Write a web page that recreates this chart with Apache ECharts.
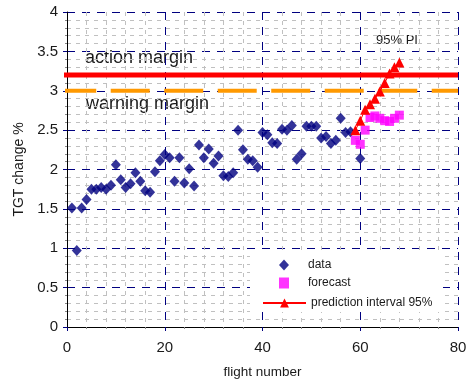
<!DOCTYPE html>
<html>
<head>
<meta charset="utf-8">
<script src="https://cdn.jsdelivr.net/npm/echarts@6/dist/echarts.min.js"></script>
<style>html,body{margin:0;padding:0;background:#fff}#c{width:467px;height:380px}</style>
</head>
<body>
<div id="c"></div>
<script>
// flight number / TGT change % for observed data
const dataX = [1,2,3,4,5,6,7,8,9,10,11,12,13,14,15,16,17,18,19,20,21,22,23,24,25,26,27,28,29,30,31,32,33,34,35,36,37,38,39,40,41,42,43,44,45,46,47,48,49,50,51,52,53,54,55,56,57,58,60];
const dataY = [1.51,0.97,1.51,1.62,1.75,1.75,1.77,1.75,1.80,2.06,1.87,1.77,1.82,1.96,1.85,1.73,1.71,1.97,2.11,2.19,2.15,1.85,2.15,1.83,2.01,1.79,2.31,2.15,2.26,2.08,2.17,1.92,1.91,1.96,2.50,2.25,2.13,2.11,2.03,2.47,2.44,2.34,2.33,2.51,2.50,2.56,2.13,2.20,2.55,2.55,2.55,2.40,2.42,2.33,2.37,2.65,2.47,2.48,2.14];
// forecast
const forecastX = [59,60,61,62,63,64,65,66,67,68];
const forecastY = [2.37,2.32,2.50,2.66,2.68,2.65,2.62,2.61,2.65,2.69];
// prediction interval 95%
const piX = [59,60,61,62,63,64,65,66,67,68];
const piY = [2.50,2.62,2.76,2.83,2.90,2.99,3.10,3.22,3.30,3.36];
// margins
const actionMargin = 3.2;
const warningMargin = 3.0;
const marginX = [-2, 80];
// axis ticks
const xTicks = {min: 0, max: 80, interval: 20};
const yTicks = {min: 0, max: 4, interval: 0.5};

const zip = (xs, ys) => xs.map((x, i) => [x, ys[i]]);
const FONT = 'Liberation Sans, Arial, sans-serif';
const TXT = '#1a1a1a';

const chart = echarts.init(document.getElementById('c'), null, {renderer: 'canvas'});
chart.setOption({
  animation: false,
  backgroundColor: '#ffffff',
  textStyle: {fontFamily: FONT},
  grid: {left: 67, right: 9, top: 12, bottom: 53, containLabel: false, outerBoundsMode: 'none'},
  xAxis: {
    type: 'value', min: xTicks.min, max: xTicks.max, interval: xTicks.interval,
    name: 'flight number', nameLocation: 'middle', nameGap: 38,
    nameTextStyle: {fontSize: 13.5, color: TXT, fontFamily: FONT},
    axisLine: {show: true, onZero: false, lineStyle: {color: '#000', width: 1}},
    axisTick: {show: true, inside: false, length: 4, lineStyle: {color: '#000080'}},
    minorTick: {show: true, splitNumber: 5, length: 2, lineStyle: {color: '#888'}},
    axisLabel: {fontSize: 15, color: TXT, margin: 13, fontFamily: FONT},
    splitLine: {show: true, lineStyle: {color: '#000080', type: [8, 7], width: 1}},
    minorSplitLine: {show: true, lineStyle: {color: '#c0c0c0', type: [4, 5], width: 1}}
  },
  yAxis: {
    type: 'value', min: yTicks.min, max: yTicks.max, interval: yTicks.interval,
    name: 'TGT change %', nameLocation: 'middle', nameGap: 31,
    nameTextStyle: {fontSize: 14, color: TXT, fontFamily: FONT},
    axisLine: {show: true, onZero: false, lineStyle: {color: '#000', width: 1}},
    axisTick: {show: true, length: 4, lineStyle: {color: '#000080'}},
    minorTick: {show: true, splitNumber: 5, length: 2, lineStyle: {color: '#888'}},
    axisLabel: {fontSize: 15, color: TXT, margin: 9, fontFamily: FONT},
    splitLine: {show: true, lineStyle: {color: '#000080', type: [8, 7], width: 1}},
    minorSplitLine: {show: true, lineStyle: {color: '#c0c0c0', type: [4, 5], width: 1}}
  },
  legend: [
    {
      orient: 'vertical', left: 279, top: 259, padding: 0,
      itemWidth: 10, itemHeight: 11, itemGap: 6,
      textStyle: {fontSize: 12, color: TXT, fontFamily: FONT, padding: [0, 0, 0, 14]},
      data: ['data', 'forecast']
    },
    {
      orient: 'vertical', left: 262, top: 297, padding: 0,
      itemWidth: 43, itemHeight: 11,
      textStyle: {fontSize: 12, color: TXT, fontFamily: FONT},
      data: ['prediction interval 95%']
    }
  ],
  series: [
    {
      name: 'action margin', type: 'line', data: zip(marginX, [actionMargin, actionMargin]),
      symbol: 'none', clip: false, silent: true,
      lineStyle: {color: '#ff0000', width: 5}, z: 1
    },
    {
      name: 'warning margin', type: 'line', data: zip(marginX, [warningMargin, warningMargin]),
      symbol: 'none', clip: false, silent: true,
      lineStyle: {color: '#ff9900', width: 4, type: [39, 14.5]}, z: 1
    },
    {
      name: 'data', type: 'scatter', data: zip(dataX, dataY),
      symbol: 'diamond', symbolSize: [10, 11],
      itemStyle: {color: '#000080'}, z: 3
    },
    {
      name: 'forecast', type: 'scatter', data: zip(forecastX, forecastY),
      symbol: 'rect', symbolSize: 9,
      itemStyle: {color: '#ff00ff'}, z: 3
    },
    {
      name: 'prediction interval 95%', type: 'line', data: zip(piX, piY),
      symbol: 'triangle', symbolSize: 10, showSymbol: true,
      lineStyle: {color: '#ff0000', width: 1},
      itemStyle: {color: '#ff0000'}, z: 4
    }
  ],
  graphic: [
    {type: 'rect', z: 1, shape: {x: 250, y: 252, width: 193, height: 60}, style: {fill: '#ffffff'}},
    {type: 'text', left: 85, top: 49, style: {text: 'action margin', fontSize: 18, fill: TXT, fontFamily: FONT}},
    {type: 'text', left: 86, top: 95, style: {text: 'warning margin', fontSize: 18, fill: TXT, fontFamily: FONT}},
    {type: 'text', left: 376, top: 34, style: {text: '95% PI', fontSize: 13, fill: TXT, fontFamily: FONT}}
  ]
});
</script>
</body>
</html>
